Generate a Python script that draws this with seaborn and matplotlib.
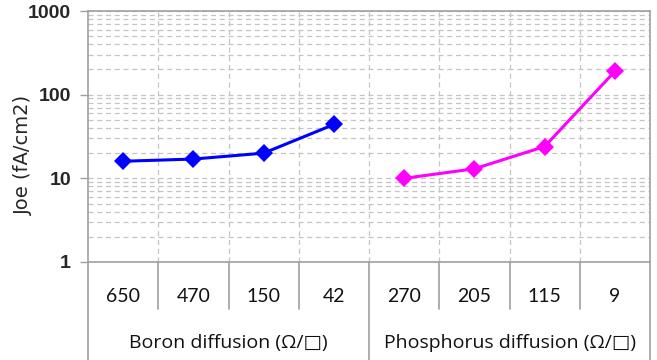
import matplotlib
matplotlib.use("Agg")
import matplotlib.pyplot as plt
import matplotlib.transforms as mtransforms
from matplotlib.ticker import LogLocator, NullFormatter, FixedLocator
import seaborn as sns
import pandas as pd

boron_labels = ["650", "470", "150", "42"]
boron_values = [16, 17, 20, 44]
phos_labels = ["270", "205", "115", "9"]
phos_values = [10, 13, 24, 190]
group_labels = ["Boron diffusion (\u03a9/\u25a1)", "Phosphorus diffusion (\u03a9/\u25a1)"]
y_label = "Joe (fA/cm2)"
y_ticks = [1, 10, 100, 1000]

sns.set_style("white")
plt.rcParams['font.family'] = ['Liberation Sans', 'DejaVu Sans']

cat_labels = boron_labels + phos_labels
df = pd.DataFrame({
    "x": list(range(len(cat_labels))),
    "y": boron_values + phos_values,
    "group": ["Boron"] * len(boron_values) + ["Phos"] * len(phos_values),
})

W, H = 657, 360
fig = plt.figure(figsize=(W / 100, H / 100), dpi=100)
ax = fig.add_axes([88 / W, 98 / H, 562 / W, 251 / H])

sns.lineplot(data=df, x="x", y="y", hue="group",
             palette={"Boron": "#0000ff", "Phos": "#ff00ff"},
             marker="D", markersize=9, markeredgewidth=0, linewidth=2.2,
             legend=False, ax=ax, zorder=3)

ax.set_yscale("log")
ax.set_ylim(1, 1000)
ax.set_xlim(-0.5, len(cat_labels) - 0.5)

grid_c = "#c4c4c4"
ax.yaxis.set_major_locator(FixedLocator(y_ticks))
ax.yaxis.set_minor_locator(LogLocator(base=10, subs=range(2, 10)))
ax.yaxis.set_minor_formatter(NullFormatter())
ax.set_yticklabels([str(t) for t in y_ticks], fontsize=14, fontweight="bold",
                   family=['Liberation Sans', 'DejaVu Sans'])
ax.tick_params(axis="y", which="major", length=5.8, width=1, color="#a0a0a0",
               direction="out", pad=6.5, left=True)
ax.tick_params(axis="y", which="minor", length=0, left=False)
ax.grid(True, axis="y", which="both", color=grid_c, linestyle=(0, (4, 3)), linewidth=0.9)

# vertical category grid lines
ax.xaxis.set_major_locator(FixedLocator([i + 0.5 for i in range(len(cat_labels) - 1)]))
ax.set_xticklabels([])
ax.tick_params(axis="x", length=0)
ax.grid(True, axis="x", which="major", color=grid_c, linestyle=(0, (4, 3)), linewidth=0.9)
ax.set_xlabel("")
ax.set_ylabel(y_label, fontsize=14, family=['DejaVu Sans'])
ax.yaxis.set_label_coords(-0.098, 0.426)

for s in ax.spines.values():
    s.set_color("#a0a0a0")
    s.set_linewidth(1.2)
    s.set_visible(True)

# multi-level category axis below
trans = mtransforms.blended_transform_factory(ax.transData, ax.transAxes)
ax_h = 251.0
line_kw = dict(color="#a0a0a0", linewidth=1.2, clip_on=False, transform=trans)
n = len(cat_labels)
for i in range(n + 1):
    xb = i - 0.5
    if i in (0, len(boron_labels), n):
        ax.plot([xb, xb], [0, -98 / ax_h], **line_kw)
    else:
        ax.plot([xb, xb], [0, -47 / ax_h], **line_kw)

for i, lab in enumerate(cat_labels):
    ax.text(i, -34 / ax_h, lab, transform=trans, ha="center", va="center",
            fontsize=14, family=['Lato', 'DejaVu Sans'], color="#111111")

centers = [(len(boron_labels) - 1) / 2, len(boron_labels) + (len(phos_labels) - 1) / 2]
for c, lab in zip(centers, group_labels):
    ax.text(c, -81 / ax_h, lab, transform=trans, ha="center", va="center",
            fontsize=14, family=['Open Sans', 'DejaVu Sans'], color="#111111")

fig.savefig("out.png", dpi=100)
